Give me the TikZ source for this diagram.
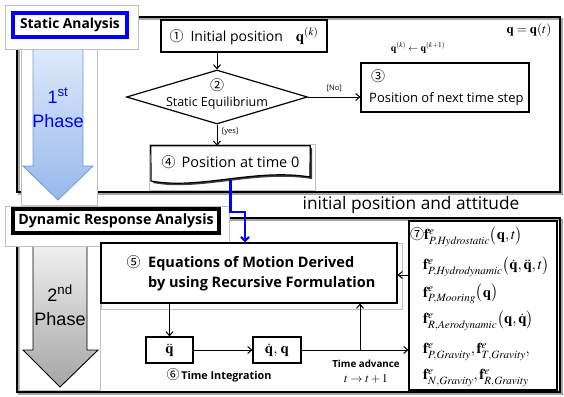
\documentclass[tikz,border=0pt]{standalone}
\usepackage{mathptmx}
\usepackage[no-math]{fontspec}
\setmainfont{Open Sans}
\newfontfamily\cjk{Noto Sans CJK KR}
\newfontfamily\arialf{Liberation Sans}
\usetikzlibrary{shapes.geometric,arrows.meta,shadows}
\definecolor{lblue}{HTML}{E3ECFB}
\definecolor{dblue}{HTML}{97B8EC}
\definecolor{bblue}{HTML}{6E9BD6}
\definecolor{pblue}{HTML}{0000FF}
\newcommand{\circd}[1]{{\cjk\mdseries\fontsize{14}{14}\selectfont #1}}
\begin{document}
\begin{tikzpicture}[x=1pt,y=-1pt,
  frame/.style={draw=black,line width=2pt},
  fshadow/.style={draw=black!35,line width=2pt},
  box/.style={draw=black,line width=1.2pt,fill=white,inner sep=0pt,
    drop shadow={shadow xshift=1.2pt,shadow yshift=-1.2pt,fill=black!70}},
  plain/.style={inner sep=0pt},
  arr/.style={-{Straight Barb[length=4pt,width=7pt]},line width=1pt},
  barr/.style={-{Straight Barb[length=4pt,width=8pt]},line width=2.2pt,draw=pblue},
  backrect/.style={draw=black!25,fill=white,line width=0.6pt},
  txt/.style={inner sep=0pt,font=\fontsize{13}{15}\selectfont},
  mth/.style={inner sep=0pt,anchor=west,font=\fontsize{15}{17}\selectfont}
]
\useasboundingbox (0,0) rectangle (564,396);
\fill[white] (0,0) rectangle (564,396);

% frames
\draw[fshadow] (19,19) rectangle (562,194);
\draw[frame] (17,17) rectangle (560,192);
\draw[fshadow] (19,220) rectangle (562,394);
\draw[frame] (17,218) rectangle (560,392);

% first phase arrow
\draw[backrect] (21,36) rectangle (97,205);
\draw[bblue,line width=0.8pt,top color=lblue,bottom color=dblue]
  (33,39) -- (83,39) -- (83,166) -- (93,166) -- (58,200) -- (23,166) -- (33,166) -- cycle;
\node[plain,text=pblue,align=center,font=\arialf\fontsize{18}{24}\selectfont] (ph1) at (58,108) {1\textsuperscript{st}\\Phase};

% static analysis label
\draw[backrect] (5,5) rectangle (138,49);
\node[draw=pblue,line width=3.2pt,fill=white,minimum width=114pt,minimum height=24pt,inner sep=0pt,
  font=\bfseries\fontsize{13.8}{15}\selectfont] (sa) at (70,25) {Static Analysis};

% second phase arrow
\draw[draw=black!25,fill=white,line width=0.6pt] (19,246) rectangle (100,390);
\draw[black,line width=0.9pt,top color=black!5,bottom color=black!35]
  (33,240) -- (87,240) -- (87,350) -- (98,350) -- (60,387) -- (23,350) -- (33,350) -- cycle;
\node[plain,align=center,font=\arialf\fontsize{18}{24}\selectfont] (ph2) at (60,305) {2\textsuperscript{nd}\\Phase};

% dynamic response label
\draw[backrect] (5,206) rectangle (229,246);
\node[draw=black,line width=3.2pt,fill=white,minimum width=206pt,minimum height=24pt,inner sep=0pt,
  font=\bfseries\fontsize{14.2}{15}\selectfont] (dra) at (116,221) {Dynamic Response Analysis};

% node 1
\node[box,minimum width=166pt,minimum height=32pt,font=\fontsize{14}{16}\selectfont] (n1) at (244,36)
  {\circd{①}\hspace{7pt}Initial position\hspace{13pt}\fontsize{15}{16}\selectfont$\mathbf{q}^{(k)}$};

% diamond 2
\node[draw,line width=1.2pt,diamond,aspect=3.35,minimum width=181pt,minimum height=54pt,inner sep=0pt] (d) at (217,97) {};
\node[plain,align=center,font=\fontsize{12.5}{16}\selectfont] (dtxt) at (217,94) {\circd{②}\\Static Equilibrium};

% node 3
\node[box,minimum width=168pt,minimum height=49pt] (n3) at (445,87.5) {};
\node[txt,anchor=west] (n3a) at (371,76) {\circd{③}};
\node[txt,anchor=west] (n3b) at (369,99) {Position of next time step};

% node 4 (document shape)
\draw[draw=black!25,line width=0.6pt] (149,144) rectangle (315,190);
\node[plain,minimum width=159pt,minimum height=34pt] (n4) at (230.5,163) {};
\fill[black!75] ([shift={(2,2)}]n4.north west) -- ([shift={(2,2)}]n4.north east) -- (312,179)
  .. controls (255,170) and (200,192) .. (153,183) -- cycle;
\draw[line width=1.2pt,fill=white] (n4.north west) -- (n4.north east) -- (310,177)
  .. controls (255,168) and (200,190) .. (151,181) -- cycle;
\node[txt,font=\fontsize{14.5}{16}\selectfont] (n4t) at (230.5,162) {\circd{④}\ \,Position at time 0};

% labels top
\node[plain,font=\fontsize{10}{12}\selectfont] (upd) at (418,48) {$\mathbf{q}^{(k)}\leftarrow\mathbf{q}^{(k+1)}$};
\node[plain,font=\fontsize{13}{14}\selectfont] (qt) at (529,30) {$\mathbf{q}=\mathbf{q}(t)$};

% connectors top
\draw[arr] (d.north |- n1.south) -- (d.north);
\draw[arr] (d.east) -- (d.east -| n3.west) node[midway,above=1pt,font=\fontsize{7.5}{8}\selectfont] (no) {[No]};
\draw[arr] (d.south) -- (d.south |- n4.north) node[pos=0.35,right=1pt,font=\fontsize{7.5}{8}\selectfont] (yes) {[yes]};

% initial position label
\node[plain,font=\fontsize{17.3}{18}\selectfont] (ipa) at (411,205) {initial position and attitude};

% box 5
\draw[draw=black!25,line width=0.6pt] (101,243) rectangle (402,309);
\node[draw=black,line width=1.2pt,fill=white,minimum width=296pt,minimum height=60pt,inner sep=0pt] (n5) at (249,273) {};
\node[plain,align=left,font=\bfseries\fontsize{14.5}{20}\selectfont] (n5t) at (251,273)
  {\circd{⑤}\ \ Equations of Motion Derived\\\phantom{\circd{⑤}\ \ }by using Recursive Formulation};

% blue connector
\coordinate (bend) at (245,212);
\draw[barr] (n4.south) |- (bend) -- (bend |- n5.north);

% integration boxes
\node[box,minimum width=47pt,minimum height=26pt,font=\fontsize{15}{16}\selectfont] (qdd) at (169.5,350) {$\ddot{\mathbf{q}}$};
\node[box,minimum width=48pt,minimum height=26pt,font=\fontsize{15}{16}\selectfont] (qd) at (277,350) {$\dot{\mathbf{q}},\,\mathbf{q}$};
\node[plain,font=\bfseries\fontsize{10.8}{12}\selectfont] (ti) at (219,375) {{\cjk\mdseries\fontsize{13}{13}\selectfont ⑥}\,Time Integration};
\node[plain,font=\bfseries\fontsize{9.8}{11}\selectfont] (ta) at (366,364) {Time advance};
\node[plain,font=\fontsize{12}{12}\selectfont] (ta2) at (366,379) {$t\rightarrow t+1$};

% node 7
\node[box,minimum width=148pt,minimum height=169pt] (n7) at (483,305.5) {};
\node[mth] (f1) at (410,237) {\circd{⑦}$\mathbf{f}^{e}_{P,\mathit{Hydrostatic}}\bigl(\mathbf{q},t\bigr)$};
\node[mth] (f2) at (423,267) {$\mathbf{f}^{e}_{P,\mathit{Hydrodynamic}}\bigl(\dot{\mathbf{q}},\ddot{\mathbf{q}},t\bigr)$};
\node[mth] (f3) at (423,294) {$\mathbf{f}^{e}_{P,\mathit{Mooring}}\bigl(\mathbf{q}\bigr)$};
\node[mth] (f4) at (423,321) {$\mathbf{f}^{e}_{R,\mathit{Aerodynamic}}\bigl(\mathbf{q},\dot{\mathbf{q}}\bigr)$};
\node[mth] (f5) at (423,352) {$\mathbf{f}^{e}_{P,\mathit{Gravity}},\mathbf{f}^{e}_{T,\mathit{Gravity}},$};
\node[mth] (f6) at (423,378) {$\mathbf{f}^{e}_{N,\mathit{Gravity}},\mathbf{f}^{e}_{R,\mathit{Gravity}}$};

% connectors bottom
\draw[arr] (qdd.north |- n5.south) -- (qdd.north);
\draw[arr] (qdd.east) -- (qd.west);
\draw[arr] (qd.east) -- (qd.east -| n7.west);
\coordinate (j) at (360,350);
\draw[arr] (j) -- (j |- n5.south);
\coordinate (f7y) at (483,275);
\draw[arr] (f7y -| n7.west) -- (f7y -| n5.east);
\end{tikzpicture}
\end{document}
